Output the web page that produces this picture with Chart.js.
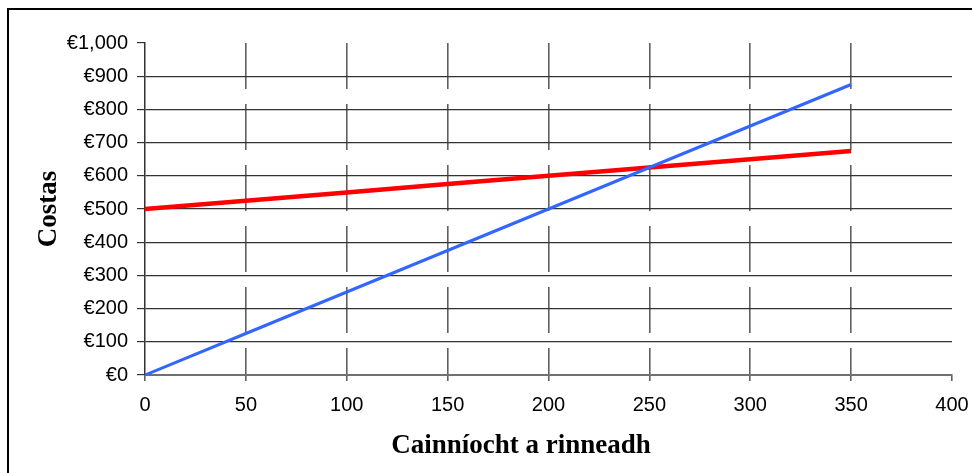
<!DOCTYPE html>
<html>
<head>
<meta charset="utf-8">
<script src="https://cdn.jsdelivr.net/npm/chart.js@4.4.1/dist/chart.umd.min.js"></script>
<style>
  html, body { margin: 0; padding: 0; background: #fff; overflow: hidden; }
  .wrap { position: relative; width: 972px; height: 473px; }
  .frame { position: absolute; left: 7px; top: 8px; width: 1200px; height: 800px; border: 2px solid #000; pointer-events: none; }
  canvas { position: absolute; left: 0; top: 0; }
</style>
</head>
<body>
<div class="wrap">
  <canvas id="chart_cost" width="972" height="473"></canvas>
  <div class="frame"></div>
</div>
<script>
// amounts made
var quantity = [0, 50, 100, 150, 200, 250, 300, 350];
var fixedCost = [500, 525, 550, 575, 600, 625, 650, 675];
var varCost = [0, 125, 250, 375, 500, 625, 750, 875];
var xTitle = "Cainníocht a rinneadh";
var yTitle = "Costas";

function pts(ys) {
  return quantity.map(function(q, i) { return { x: q, y: ys[i] } });
}

// x axis title sits a bit left of plot centre in the original
const xTitlePlugin = {
  id: 'xTitle',
  afterDraw(chart) {
    var ctx = chart.ctx;
    ctx.save();
    ctx.font = 'bold 27px "Liberation Serif"';
    ctx.fillStyle = '#000';
    ctx.textAlign = 'center';
    ctx.textBaseline = 'middle';
    ctx.fillText(xTitle, 521, 446);
    ctx.restore();
  }
};

const el = document.getElementById('chart_cost');
var cha = new Chart(el, {
  type: 'line',
  data: {
    datasets: [{
      label: 'Costas inathraithe',
      data: pts(varCost),
      borderColor: '#3366ff',
      borderWidth: 3,
      pointRadius: 0,
      order: 0
    }, {
      label: 'Costas seasta',
      data: pts(fixedCost),
      borderColor: '#ff0000',
      borderWidth: 4.5,
      pointRadius: 0,
      order: 1
    }]
  },
  options: {
    responsive: false,
    animation: false,
    layout: { padding: { top: 43, right: 20, left: 0, bottom: 0 } },
    plugins: { legend: { display: false }, tooltip: { enabled: false } },
    scales: {
      x: {
        type: 'linear',
        min: 0,
        max: 400,
        afterFit: function(s) { s.height = 98; s.paddingRight = 0; s.paddingLeft = 0 },
        ticks: { stepSize: 50, color: '#000', padding: 12, maxRotation: 0,
          font: { family: 'Liberation Sans', size: 20 } },
        grid: {
          color: function(c) { return (c.tick && (c.tick.value == 400 || c.tick.value == 0)) ? 'rgba(0,0,0,0)' : '#606060' },
          lineWidth: 1.6,
          tickColor: '#606060',
          tickWidth: 1.6,
          tickLength: 6,
          tickBorderDash: []
        },
        border: { color: '#707070', width: 2, dash: [46, 15] },
        title: { display: false }
      },
      y: {
        min: 0,
        max: 1000,
        afterFit: function(s) { s.width = 145 },
        ticks: { stepSize: 100, color: '#000', padding: 9,
          font: { family: 'Liberation Sans', size: 20 },
          callback: function(v) { return '€' + v.toLocaleString('en-US') } },
        grid: {
          color: function(c) { return (c.tick && c.tick.value == 1000) ? 'rgba(0,0,0,0)' : '#333' },
          lineWidth: 1.2,
          tickColor: '#333',
          tickLength: 8
        },
        border: { color: '#333', width: 1.5 },
        title: {
          display: true,
          text: yTitle,
          color: '#000',
          font: { family: 'Liberation Serif', size: 27, weight: 'bold' },
          padding: { top: 33, bottom: 0 }
        }
      }
    }
  },
  plugins: [xTitlePlugin]
});
</script>
</body>
</html>
